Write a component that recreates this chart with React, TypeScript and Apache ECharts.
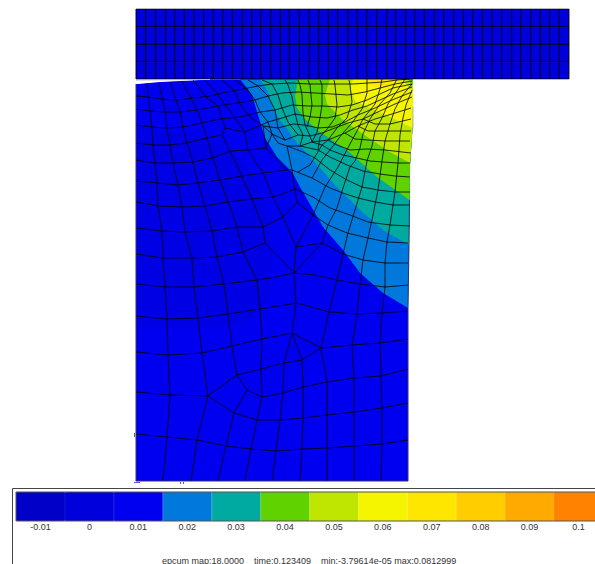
import React, { useEffect, useRef } from "react";
import * as echarts from "echarts";

type P = [number, number];

const bandLabels = ["-0.01", "0", "0.01", "0.02", "0.03", "0.04", "0.05", "0.06", "0.07", "0.08", "0.09", "0.1"];
const bandColors = ["#0000c8", "#0000dc", "#0000f0", "#0078dc", "#00aaa0", "#5fd200", "#bee600", "#f5f500", "#ffe600", "#ffcd00", "#ffaa00", "#ff8200"];
const bandHeights = [1, 1, 1, 1, 1, 1, 1, 1, 1, 1, 1, 1];
const footer = "epcum map:18.0000    time:0.123409    min:-3.79614e-05 max:0.0812999";

const blockColumns = [136, 145.7, 155.7, 165.7, 174.7, 184.3, 194, 203.7, 213.3, 222.7, 232.3, 242.3, 251.7, 260.7, 270.7, 280.3, 289.3, 299.3, 309.3, 318.7, 328.3, 337.7, 348, 357.3, 366.7, 376.7, 386.7, 395.7, 405.7, 414.7, 424.3, 434.3, 443.7, 453.7, 463.3, 472.7, 482.3, 492, 501.7, 511.7, 520.7, 530.7, 540.3, 549.7, 559, 569];
const blockRows = [9, 26.3, 44.3, 61.3, 79];
const blockOutline: P[] = [[136, 9], [569, 9], [569, 79], [136, 79], [136, 9]];

const bodyOutline: P[] = [[136, 84], [160, 82], [210, 79.5], [413, 79], [412.5, 128], [410, 165], [409.5, 200], [409, 245], [408, 308], [408, 481], [136, 481]];
const darkPatch: P[] = [[136, 125], [160, 130], [200, 135], [230, 150], [250, 170], [265, 200], [270, 230], [273, 270], [268, 300], [250, 320], [225, 327], [185, 327], [136, 327]];
const band02: P[] = [[240, 79], [252, 95], [258, 115], [265, 138], [277, 157], [292, 172], [300, 187], [323, 227], [343, 250], [360, 273], [383, 293], [408, 308], [409.5, 200], [410, 165], [412.5, 128], [413, 79]];
const band03: P[] = [[260, 79], [268, 92], [273, 108], [280, 121], [288, 130], [293, 138], [313, 160], [335, 185], [360, 210], [383, 230], [409, 245], [409.5, 200], [410, 165], [412.5, 128], [413, 79]];
const band04: P[] = [[298, 79], [295, 96], [297, 108], [305, 119], [320, 132], [347, 150], [377, 177], [409.5, 200], [410, 165], [412.5, 128], [413, 79]];
const band05: P[] = [[330, 79], [325, 95], [327, 104], [342, 119], [363, 134], [388, 151], [410, 163], [412.5, 128], [413, 79]];
const band06: P[] = [[353, 79], [350, 89], [355, 101], [370, 108], [392, 118], [412.5, 128], [413, 92], [408, 86], [403, 79]];
const band07: P[] = [[367, 79], [372, 85], [385, 87], [395, 84], [398, 79]];
const cornerLime: P[] = [[403, 79], [408, 86], [413, 92], [413, 79]];
const cornerGreen: P[] = [[408, 79], [411, 85], [413, 84], [413, 79]];

const sliver: P[] = [[136, 80], [165, 79.5], [210, 79.5], [160, 81.5], [136, 84]];

const rowLines: P[][] = [
  [[136, 96], [148, 97], [162, 99], [177, 100], [193, 98], [210, 96], [227, 92], [243, 89], [258, 86], [272, 84], [290, 83], [310, 84], [325, 84], [338, 84], [353, 84], [368, 83], [383, 82], [397, 80], [410, 79]],
  [[136, 109], [150, 111], [165, 112], [180, 112], [197, 110], [218, 106], [243, 102], [255, 100], [268, 96], [282, 93], [298, 92], [315, 93], [332, 94], [348, 95], [365, 92], [380, 88], [395, 84], [412, 81]],
  [[136, 125], [152, 127], [167, 128], [183, 127], [202, 123], [220, 119], [240, 117], [260, 112], [275, 110], [292, 105], [308, 106], [323, 106], [338, 107], [352, 105], [367, 100], [380, 94], [393, 88], [412, 84]],
  [[136, 143], [153, 145], [170, 145], [187, 143], [207, 138], [222, 135]],
  [[225, 128], [245, 132], [268, 122], [282, 118], [295, 114], [312, 117], [327, 118], [340, 115], [353, 110], [367, 106], [380, 100], [393, 94], [412, 87]],
  [[263, 126], [278, 128], [293, 124], [305, 125], [318, 128], [332, 127], [345, 122], [358, 115], [375, 108], [392, 100], [412, 92]],
  [[136, 160], [155, 163], [173, 163], [193, 162], [213, 158], [230, 151], [248, 150], [266, 148], [272, 134]],
  [[136, 181], [157, 183], [178, 185], [198, 183], [220, 180], [242, 176], [263, 173], [287, 170], [292, 170]],
  [[136, 202], [158, 206], [182, 207], [205, 206], [228, 202], [252, 199], [273, 197], [280, 195], [295, 189]],
  [[136, 228], [162, 231], [185, 232], [212, 231], [237, 227], [263, 227], [283, 217], [297, 202]],
  [[136, 254], [163, 258], [192, 258], [217, 257], [243, 252], [265, 243], [294, 273]],
  [[136, 284], [165, 287], [194, 287], [224, 284], [257, 280], [276, 277], [294, 273], [315, 275], [337, 280], [360, 284], [385, 287], [408, 285]],
  [[136, 316], [167, 319], [198, 318], [228, 314], [260, 309], [297, 303], [329, 312], [357, 314], [382, 313], [408, 311]],
  [[136, 352], [168, 355], [202, 353], [232, 346], [262, 339], [292, 333], [321, 348], [352, 345], [380, 343], [408, 339]],
  [[136, 392], [170, 395], [208, 396], [237, 375], [261, 369], [284, 363], [302, 360], [321, 348]],
  [[237, 375], [247, 390], [262, 397], [283, 393], [303, 387], [327, 382], [354, 378], [381, 376], [408, 369]],
  [[208, 396], [234, 413], [257, 420], [280, 420], [303, 418], [327, 415], [354, 412], [382, 408], [408, 403]],
  [[247, 390], [234, 413]],
  [[136, 434], [167, 437], [197, 440], [226, 446], [251, 449], [276, 451], [302, 449], [327, 448], [354, 446], [382, 444], [408, 440]],
];

const arcLines: P[][] = [
  [[296, 247], [322, 243], [343, 254], [363, 260], [385, 263], [408, 263]],
  [[297, 202], [313, 215], [328, 225], [347, 233], [368, 238], [387, 242], [408, 243]],
  [[295, 189], [313, 197], [330, 208], [350, 215], [368, 222], [390, 225], [410, 226]],
  [[292, 170], [312, 178], [330, 188], [343, 193], [358, 198], [375, 202], [393, 205], [410, 205]],
  [[287, 146], [303, 152], [315, 158], [330, 170], [347, 180], [362, 187], [378, 190], [395, 192], [410, 192]],
  [[300, 146], [318, 150], [330, 157], [347, 165], [363, 171], [380, 174], [395, 176], [410, 177]],
  [[312, 142], [322, 145], [330, 150], [343, 155], [357, 158], [370, 161], [383, 162], [398, 163], [410, 163]],
  [[328, 140], [337, 145], [350, 150], [367, 149], [385, 150], [411, 153]],
  [[345, 133], [355, 139], [368, 140], [385, 141], [410, 141]],
  [[358, 126], [368, 131], [387, 131], [411, 131]],
  [[363, 119], [375, 124], [390, 124], [411, 119]],
  [[272, 134], [285, 140], [298, 135], [310, 136], [322, 133], [335, 128], [348, 123], [363, 119], [380, 111], [395, 104], [412, 97]],
  [[263, 126], [272, 134], [278, 143], [287, 146], [300, 146], [312, 142], [328, 140], [345, 133], [358, 126], [375, 119], [392, 114], [411, 108]],
];

const columnLines: P[][] = [
  [[147, 85], [150, 111], [152, 127], [153, 145], [155, 163], [157, 183], [158, 206], [162, 231], [163, 258], [165, 287], [167, 319], [168, 355], [170, 395], [167, 437], [163, 481]],
  [[159, 83], [165, 112], [167, 128], [170, 145], [173, 163], [178, 185], [182, 207], [185, 232], [192, 258], [194, 287], [198, 318], [202, 353], [208, 396], [197, 440], [191, 481]],
  [[170, 82], [180, 112], [183, 127], [187, 143], [193, 162], [198, 183], [205, 206], [212, 231], [217, 257], [224, 284], [228, 314], [232, 346], [237, 375]],
  [[182, 81], [197, 110], [202, 123], [207, 138], [213, 158], [220, 180], [228, 202], [237, 227], [243, 252], [257, 280], [260, 309], [262, 339], [261, 369], [262, 397], [257, 420], [251, 449], [245, 481]],
  [[234, 413], [226, 446], [218, 481]],
  [[193, 80], [207, 98], [218, 106], [225, 128], [222, 135], [230, 151], [242, 176], [252, 199], [263, 227], [265, 243]],
  [[205, 80], [217, 93], [225, 105], [233, 115], [245, 132], [248, 150], [263, 173], [273, 197], [283, 217], [296, 247], [294, 273], [296, 303], [292, 333], [284, 363], [283, 393], [280, 420], [276, 451], [272, 481]],
  [[222, 80], [235, 91], [240, 104], [250, 117], [263, 126], [266, 148], [287, 170]],
  [[235, 80], [247, 89], [255, 100], [260, 112], [268, 122], [272, 134]],
  [[248, 80], [258, 86], [268, 96], [275, 110], [278, 128], [285, 140]],
  [[262, 80], [272, 84], [278, 95], [282, 108], [288, 122], [298, 135]],
  [[285, 80], [288, 85], [292, 97], [295, 113], [298, 125], [303, 135], [300, 146]],
  [[298, 80], [300, 85], [302, 95], [303, 113], [305, 125], [310, 136], [312, 142]],
  [[308, 80], [310, 85], [312, 105], [310, 117], [307, 127]],
  [[320, 80], [322, 85], [322, 105], [320, 118], [317, 132], [312, 142]],
  [[334, 80], [335, 85], [337, 105], [335, 118], [328, 128], [320, 137], [318, 150]],
  [[349, 80], [350, 85], [352, 102], [347, 118], [337, 128], [328, 140], [322, 145], [310, 165], [298, 172]],
  [[292, 170], [287, 146]],
  [[292, 170], [295, 189], [297, 202]],
  [[322, 243], [294, 273]],
  [[292, 333], [302, 360], [303, 387], [303, 418], [302, 449], [300, 481]],
  [[296, 247], [313, 215], [325, 187], [338, 167], [350, 144], [357, 131], [363, 119], [375, 104], [380, 89], [382, 79]],
  [[322, 243], [328, 225], [337, 208], [343, 188], [350, 167], [355, 161], [360, 148], [363, 134], [370, 119], [380, 104], [390, 93], [397, 79]],
  [[327, 481], [327, 448], [327, 415], [327, 382], [321, 348], [329, 312], [337, 280], [343, 254], [348, 233], [355, 210], [362, 187], [367, 161], [372, 146], [375, 131], [382, 118], [388, 104], [397, 91], [405, 79]],
  [[354, 481], [354, 446], [354, 412], [354, 378], [352, 345], [357, 314], [360, 284], [363, 260], [368, 238], [373, 215], [378, 190], [382, 161], [385, 141], [390, 124], [395, 109], [402, 96], [412, 84]],
  [[381, 481], [382, 444], [382, 408], [381, 376], [380, 343], [382, 313], [385, 287], [385, 263], [387, 242], [390, 225], [393, 205], [395, 192], [398, 163], [400, 135], [403, 118], [406, 105], [412, 90]],
  [[312, 178], [322, 160], [333, 146], [342, 134], [352, 123], [362, 109], [367, 93], [367, 79]],
];

const strayMarks: P[][] = [
  [[134.5, 433], [134.5, 437]],
  [[180.5, 482], [180.5, 484]],
  [[183.5, 482], [183.5, 484]],
  [[134, 482.5], [140, 482.5]],
];

const regions: { pts: P[]; color: string }[] = [
  { pts: bodyOutline, color: bandColors[2] },
  { pts: darkPatch, color: "#0000e4" },
  { pts: band02, color: bandColors[3] },
  { pts: band03, color: bandColors[4] },
  { pts: band04, color: bandColors[5] },
  { pts: band05, color: bandColors[6] },
  { pts: band06, color: bandColors[7] },
  { pts: band07, color: bandColors[8] },
  { pts: cornerLime, color: bandColors[6] },
  { pts: cornerGreen, color: bandColors[5] },
  { pts: blockOutline, color: bandColors[1] },
  { pts: sliver, color: "#ffffff" },
];

const lineSeries = (pts: P[], color: string, width = 1, opacity = 0.9) => ({
  type: "line",
  xAxisIndex: 0,
  yAxisIndex: 0,
  data: pts,
  symbol: "none",
  silent: true,
  clip: false,
  z: 5,
  lineStyle: { color, width, opacity },
});

export default function App() {
  const ref = useRef<HTMLDivElement>(null);
  useEffect(() => {
    document.body.style.margin = "0";
    document.body.style.overflow = "hidden";
    const chart = echarts.init(ref.current!, null, { renderer: "svg" });
    const blockColumnPts: P[][] = blockColumns.map((x) => [[x, blockRows[0]], [x, blockRows[blockRows.length - 1]]]);
    const blockRowPts: P[][] = blockRows.map((y) => [[blockColumns[0], y], [blockColumns[blockColumns.length - 1], y]]);
    chart.setOption({
      animation: false,
      backgroundColor: "#ffffff",
      grid: [
        { left: 0, top: 0, width: 595, height: 564, show: false, outerBoundsMode: "none" },
        { left: 16, top: 492, width: 587, height: 29, show: true, borderColor: "#555555", borderWidth: 1, backgroundColor: "transparent", z: 3, outerBoundsMode: "none" },
      ],
      xAxis: [
        { type: "value", gridIndex: 0, min: 0, max: 595, show: false },
        {
          type: "category",
          gridIndex: 1,
          data: bandLabels,
          axisLine: { show: false },
          axisTick: { show: false },
          splitLine: { show: false },
          axisLabel: { interval: 0, margin: 1, fontSize: 9, color: "#333333", fontFamily: "Liberation Sans, Arial, sans-serif", hideOverlap: false },
        },
      ],
      yAxis: [
        { type: "value", gridIndex: 0, min: 0, max: 564, inverse: true, show: false },
        { type: "value", gridIndex: 1, min: 0, max: 1, show: false },
      ],
      series: [
        {
          type: "custom",
          xAxisIndex: 0,
          yAxisIndex: 0,
          silent: true,
          clip: false,
          z: 2,
          data: regions.map((_, i) => [i, 0]),
          renderItem: (params: any, api: any) => ({
            type: "polygon",
            shape: { points: regions[params.dataIndex].pts.map((p) => api.coord(p)) },
            style: { fill: regions[params.dataIndex].color },
          }),
        },
        {
          type: "bar",
          xAxisIndex: 1,
          yAxisIndex: 1,
          barWidth: "100%",
          silent: true,
          data: bandHeights.map((v, i) => ({ value: v, itemStyle: { color: bandColors[i], borderColor: bandColors[i], borderWidth: 1 } })),
        },
        ...blockColumnPts.map((p) => lineSeries(p, "#000000")),
        ...blockRowPts.map((p) => lineSeries(p, "#000000")),
        ...rowLines.map((p) => lineSeries(p, "#000000", 1, 0.8)),
        ...arcLines.map((p) => lineSeries(p, "#000000", 1, 0.8)),
        ...columnLines.map((p) => lineSeries(p, "#000000", 1, 0.8)),
        lineSeries([[136, 84], [136, 481], [408, 481], [408, 308], [409, 245], [409.5, 200]], "#333366", 1, 1),
        lineSeries([[136, 8.5], [569, 8.5]], "#b8b8b8", 1, 1),
        lineSeries([[413, 79.5], [569, 79.5]], "#b8b8b8", 1, 1),
        lineSeries([[136, 80], [210, 79.5]], "#b8b8b8", 1, 1),
        lineSeries([[413, 107], [413, 128]], "#b8b8b8", 1, 1),
        ...strayMarks.map((p) => lineSeries(p, "#5555dd", 1, 1)),
      ],
      graphic: [
        { type: "rect", silent: true, z: 1, shape: { x: 12.5, y: 488.5, width: 620, height: 120 }, style: { fill: "none", stroke: "#444444", lineWidth: 1 } },
        { type: "text", silent: true, x: 162, y: 556, style: { text: footer, fontSize: 9, fontFamily: "Liberation Sans, Arial, sans-serif", fill: "#333333" } },
      ],
    });
    return () => chart.dispose();
  }, []);
  return <div ref={ref} style={{ width: 595, height: 564 }} />;
}
